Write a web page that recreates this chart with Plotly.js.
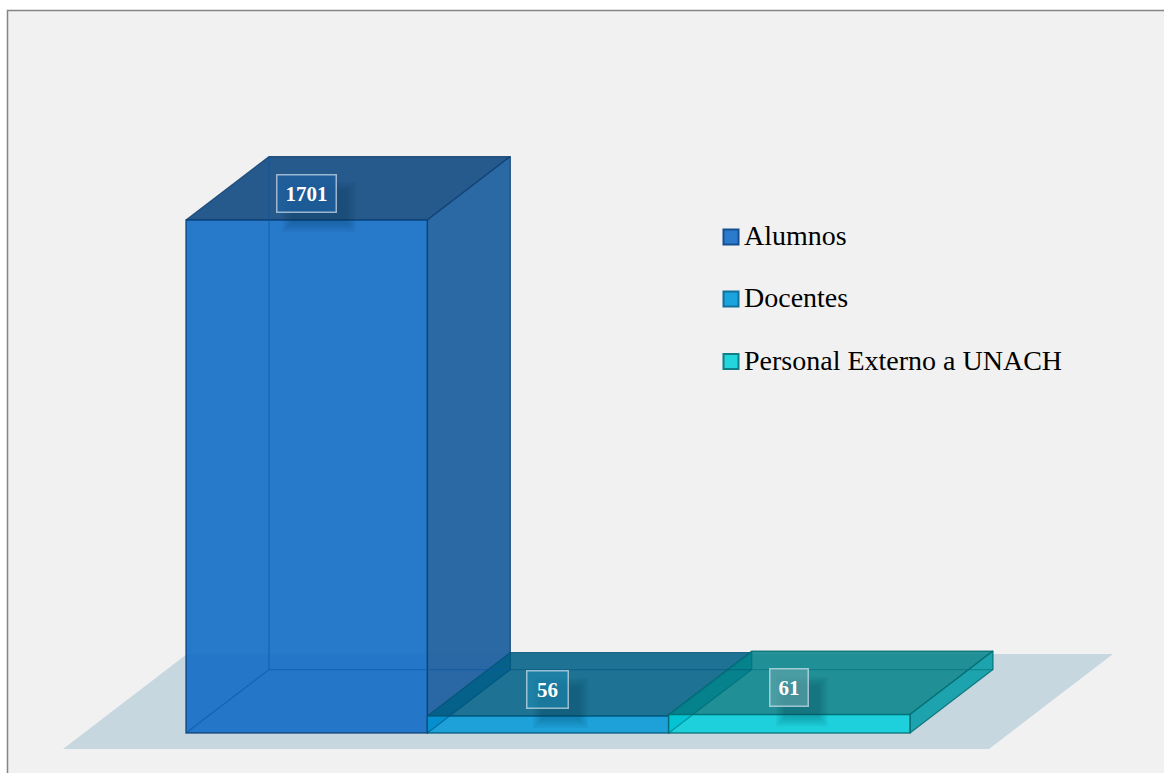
<!DOCTYPE html>
<html>
<head>
<meta charset="utf-8">
<script src="https://cdn.plot.ly/plotly-3.0.1.min.js"></script>
<style>html,body{margin:0;padding:0;background:#fff;overflow:hidden}#chart{width:1164px;height:773px}</style>
</head>
<body>
<div id="chart"></div>
<script>
// ---- data ----
const categories = ["Alumnos", "Docentes", "Personal Externo a UNACH"];
const values = [1701, 56, 61];

// ---- styles ----
const frontColors = ["rgba(17,108,197,0.9)", "rgba(0,150,215,0.85)", "rgba(0,207,218,0.85)"];
const topColors = ["rgba(31,84,136,0.97)", "rgba(0,96,134,0.85)", "rgba(2,130,137,0.85)"];
const sideColors = ["rgba(36,100,162,0.97)", "rgba(0,110,150,0.85)", "rgba(20,160,170,0.95)"];
const edgeColors = ["rgba(12,62,112,0.8)", "rgba(0,84,120,0.8)", "rgba(0,104,110,0.8)"];
const innerColors = ["rgba(8,88,165,0.6)", "rgba(0,84,125,0.5)", "rgba(0,110,120,0.5)"];
const keyFill = ["#2a7bcd", "#1ba3dd", "#25d5de"];
const keyEdge = ["#17508f", "#12709c", "#107f87"];
const labelFill = ["rgba(30,96,160,0.75)", "rgba(30,140,180,0.55)", "rgba(110,170,175,0.55)"];

// ---- scale: pixel geometry of the drawing ----
const W = 1164, H = 773;
const pxPerBar = 241.33, pxPerUnit = 0.30159, leftPx = 186, basePx = 733;
const depthX = 83 / pxPerBar;      // in bar units
const depthY = 63.5 / pxPerUnit;   // in value units
const xRange = [-leftPx / pxPerBar, (W - leftPx) / pxPerBar];
const yRange = [-(H - basePx) / pxPerUnit, basePx / pxPerUnit];
const px = p => (p - leftPx) / pxPerBar;
const py = p => (basePx - p) / pxPerUnit;

// ---- faces of the 3D bars, derived from the values ----
function poly(xs, ys, fill, line, axes) {
  return Object.assign({
    type: "scatter", mode: "lines", x: xs.concat(xs[0]), y: ys.concat(ys[0]),
    fill: "toself", fillcolor: fill, line: {color: line, width: 1.25},
    showlegend: false, hoverinfo: "skip"
  }, axes || {});
}
function edge(xs, ys, color) {
  return {type: "scatter", mode: "lines", x: xs, y: ys, xaxis: "x2", yaxis: "y2",
    line: {color: color, width: 1.25}, showlegend: false, hoverinfo: "skip"};
}
const traces = [];
values.forEach((v, i) => {
  const a = i, b = i + 1;
  // top
  traces.push(poly([a, b, b + depthX, a + depthX], [v, v, v + depthY, v + depthY], topColors[i], edgeColors[i]));
  // right side
  traces.push(poly([b, b + depthX, b + depthX, b], [v, v + depthY, depthY, 0], sideColors[i], edgeColors[i]));
});
// front faces, on an overlay so that they cover what lies behind them
traces.push({
  type: "bar", x: categories.map((c, i) => i + 0.5), y: values, width: 1,
  name: "values", text: categories, textposition: "none", hovertemplate: "%{text}: %{y}<extra></extra>",
  xaxis: "x2", yaxis: "y2", showlegend: false,
  marker: {color: frontColors, line: {color: edgeColors, width: 1.5}}
});
// edges seen through the faces
values.forEach((v, i) => {
  const a = i, b = i + 1;
  traces.push(edge([a + depthX, a + depthX], [depthY, v + depthY], innerColors[i]));
  traces.push(edge([a, a + depthX, b + depthX], [0, depthY, depthY], innerColors[i]));
});

// ---- soft shadows behind the value labels, and the floor / frame ----
const shapes = [
  {type: "rect", xref: "paper", yref: "paper", layer: "below",
   x0: 7.5 / W, x1: 1.02, y0: -0.02, y1: 1 - 10.5 / H,
   fillcolor: "#f1f1f1", line: {color: "#858585", width: 1.5}},
  {type: "path", xref: "x", yref: "y", layer: "below",
   path: `M${px(63)},${py(749)}L${px(989)},${py(749)}L${px(1113)},${py(654)}L${px(187)},${py(654)}Z`,
   fillcolor: "#c6d7df", line: {width: 0}}
];
const boxW = [60, 42, 39], boxH = 38;
values.forEach((v, i) => {
  for (let k = 0; k < 6; k++) {
    const inset = k * 1.7;
    shapes.push({
      type: "rect", layer: "above", xref: "x", yref: "y",
      xsizemode: "pixel", ysizemode: "pixel", xanchor: i + 0.5, yanchor: v,
      x0: -boxW[i] / 2 + 6 + inset, x1: boxW[i] / 2 + 19 - inset,
      y0: 27 + boxH / 2 - 8 - inset, y1: 27 - boxH / 2 - 20 + inset,
      fillcolor: "rgba(5,40,60,0.045)", line: {width: 0}
    });
  }
});
// legend keys
const legendRows = [236.5, 298.5, 361];
categories.forEach((c, i) => {
  shapes.push({type: "rect", layer: "above", xref: "paper", yref: "paper",
    x0: 723.5 / W, x1: 738.5 / W, y0: 1 - (legendRows[i] + 8) / H, y1: 1 - (legendRows[i] - 7) / H,
    fillcolor: keyFill[i], line: {color: keyEdge[i], width: 2}});
});

const annotations = [];
values.forEach((v, i) => {
  annotations.push({
    x: i + 0.5, y: v, xref: "x", yref: "y", yshift: 27, text: "<b>" + v + "</b>", showarrow: false,
    width: boxW[i] - 2, height: boxH - 2, valign: "middle", align: "center",
    bgcolor: labelFill[i], bordercolor: "rgba(225,235,245,0.65)", borderwidth: 1.5, borderpad: 0,
    font: {family: "Liberation Serif, serif", size: 21, color: "#ffffff"}
  });
});
categories.forEach((c, i) => {
  annotations.push({
    x: 743 / W, y: 1 - (legendRows[i] - 1) / H, xref: "paper", yref: "paper", xanchor: "left", yanchor: "middle",
    text: c, showarrow: false, align: "left", borderpad: 0,
    font: {family: "Liberation Serif, serif", size: 28, color: "#000000"}
  });
});

const hidden = {visible: false, fixedrange: true};
const layout = {
  width: W, height: H, margin: {l: 0, r: 0, t: 0, b: 0},
  paper_bgcolor: "#ffffff", plot_bgcolor: "rgba(0,0,0,0)", showlegend: false,
  barmode: "overlay", bargap: 0,
  xaxis: Object.assign({range: xRange, domain: [0, 1]}, hidden),
  yaxis: Object.assign({range: yRange, domain: [0, 1]}, hidden),
  xaxis2: Object.assign({range: xRange, overlaying: "x"}, hidden),
  yaxis2: Object.assign({range: yRange, overlaying: "y"}, hidden),
  shapes: shapes, annotations: annotations
};
Plotly.newPlot("chart", traces, layout, {displayModeBar: false, staticPlot: true});
</script>
</body>
</html>
